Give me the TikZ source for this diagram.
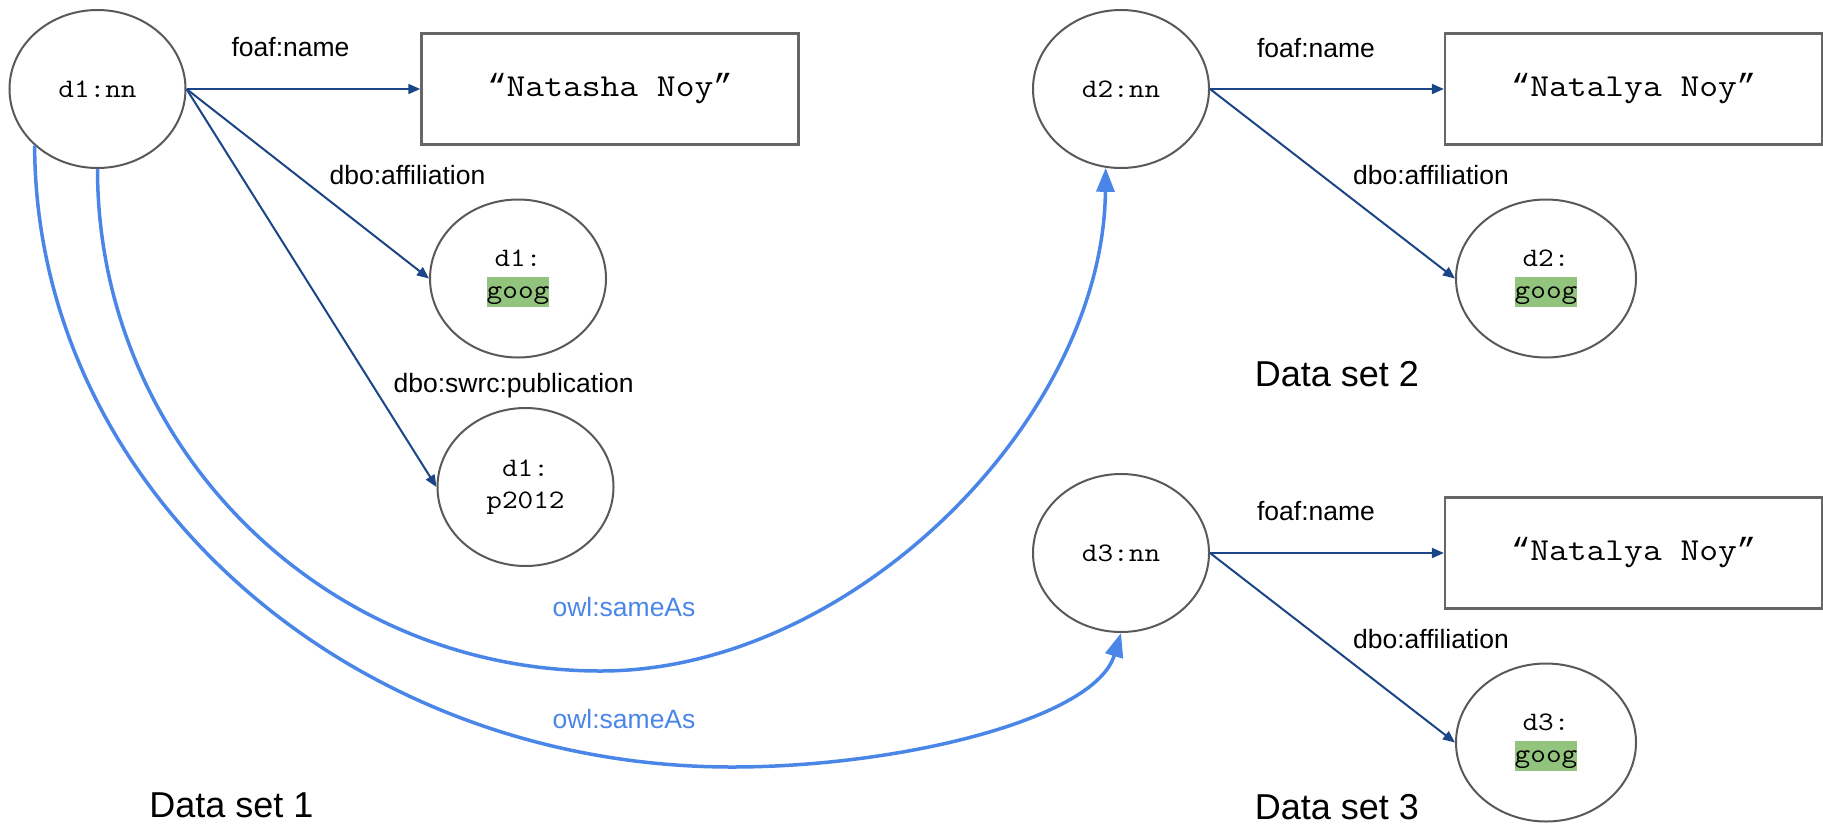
\documentclass[tikz,border=0pt]{standalone}
\usepackage{fontspec}
\setmainfont{Liberation Sans}
\newfontfamily\monofont{Latin Modern Mono}[FakeStretch=1.14]
\newfontfamily\quotefont{Liberation Mono}
\usetikzlibrary{arrows.meta,shapes.geometric}
\definecolor{navy}{HTML}{1C4587}
\definecolor{sameas}{HTML}{4A86E8}
\definecolor{hlgreen}{HTML}{93C47D}
\definecolor{outline}{HTML}{595959}
\definecolor{boxline}{HTML}{666666}
% green highlight behind a resource local name
\newcommand\hlname[1]{{\setlength\fboxsep{0pt}\colorbox{hlgreen}{\rule[-0.3em]{0pt}{1.133em}#1}}}
% slanted typewriter quotes around a literal
\newcommand\literal[1]{{\quotefont “}#1{\quotefont ”}}
\begin{document}
\begin{tikzpicture}[x=1pt,y=-1pt,
  res/.style={ellipse,draw=outline,line width=2pt,minimum width=176pt,minimum height=158pt,
    inner sep=0pt,align=center,font=\monofont\fontsize{26.67}{32}\selectfont},
  lit/.style={rectangle,draw=boxline,line width=2.5pt,minimum width=377pt,minimum height=111pt,
    inner sep=0pt,font=\monofont\fontsize{32}{38}\selectfont},
  prop/.style={anchor=base,inner sep=0pt,font=\fontsize{26.5}{32}\selectfont},
  rel/.style={draw=navy,line width=2pt,-{Triangle[length=12pt,width=10pt]}},
  same/.style={draw=sameas,line width=3.5pt,-{Triangle[length=24pt,width=18pt]}},
  settitle/.style={anchor=base,inner sep=0pt,font=\fontsize{36}{43}\selectfont}]
\useasboundingbox (0,0) rectangle (1823,825);

% data set 1
\node[res] (d1) at (97.5,89) {d1:nn};
\node[lit] (n1) at (610,89) {\literal{Natasha Noy}};
\node[res] (g1) at (518,278.5) {d1:\\\hlname{goog}};
\node[res] (p1) at (525.5,487) {d1:\\p2012};
\draw[rel] (d1.east) -- (n1.west);
\draw[rel] (d1.east) -- (g1.west);
\draw[rel] (d1.east) -- (p1.west);
\node[prop] (l1a) at (290.5,56.7) {foaf:name};
\node[prop] (l1b) at (407.5,184.3) {dbo:affiliation};
\node[prop] (l1c) at (513.6,392.7) {dbo:swrc:publication};
\node[settitle] (t1) at (231.5,817.3) {Data set 1};

% data set 2
\node[res] (d2) at (1121,89) {d2:nn};
\node[lit] (n2) at (1633.6,89) {\literal{Natalya Noy}};
\node[res,minimum width=180pt] (g2) at (1546,278.5) {d2:\\\hlname{goog}};
\draw[rel] (d2.east) -- (n2.west);
\draw[rel] (d2.east) -- (g2.west);
\node[prop] (l2a) at (1316,57) {foaf:name};
\node[prop] (l2b) at (1431,184.3) {dbo:affiliation};
\node[settitle] (t2) at (1336.8,386.7) {Data set 2};

% data set 3
\node[res] (d3) at (1121,553) {d3:nn};
\node[lit] (n3) at (1633.6,553) {\literal{Natalya Noy}};
\node[res,minimum width=180pt] (g3) at (1546,742.5) {d3:\\\hlname{goog}};
\draw[rel] (d3.east) -- (n3.west);
\draw[rel] (d3.east) -- (g3.west);
\node[prop] (l3a) at (1316,520) {foaf:name};
\node[prop] (l3b) at (1431,648.3) {dbo:affiliation};
\node[settitle] (t3) at (1336.8,819) {Data set 3};

% owl:sameAs links between the data sets
\draw[same] (d1.-90) .. controls (97.5,446) and (323,671) .. (601,671)
  .. controls (851,671) and (1103,420) .. (d2.-101);
\draw[same] (d1.-138) .. controls (35.6,488) and (348,767) .. (732,767)
  .. controls (900,767) and (1095,719) .. (d3.-90);
\node[prop,text=sameas] (s1) at (624,616.7) {owl:sameAs};
\node[prop,text=sameas] (s2) at (624,728.3) {owl:sameAs};
\end{tikzpicture}
\end{document}
